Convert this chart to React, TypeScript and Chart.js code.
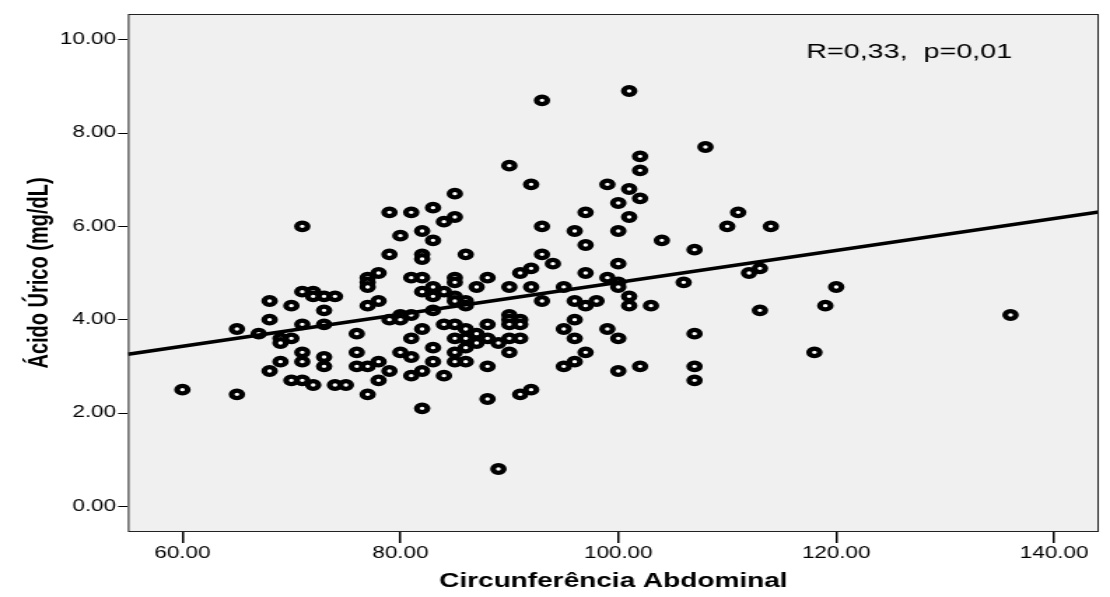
import { useEffect, useRef } from 'react';
import { Chart, registerables } from 'chart.js';

Chart.register(...registerables);

// ---- Data ----
const waistCm = [
  60,
  65, 65,
  67,
  68, 68, 68,
  69, 69, 69,
  70, 70, 70,
  71, 71, 71, 71, 71, 71,
  72, 72, 72,
  73, 73, 73, 73, 73,
  74, 74,
  75,
  76, 76, 76,
  77, 77, 77, 77, 77, 77,
  78, 78, 78, 78,
  79, 79, 79, 79,
  80, 80, 80, 80,
  81, 81, 81, 81, 81, 81,
  82, 82, 82, 82, 82, 82, 82, 82,
  83, 83, 83, 83, 83, 83, 83,
  84, 84, 84, 84,
  85, 85, 85, 85, 85, 85, 85, 85, 85, 85,
  86, 86, 86, 86, 86, 86, 86,
  87, 87, 87,
  88, 88, 88, 88, 88,
  89, 89,
  90, 90, 90, 90, 90, 90, 90,
  91, 91, 91, 91, 91,
  92, 92, 92, 92,
  93, 93, 93, 93,
  94,
  95, 95, 95,
  96, 96, 96, 96, 96,
  97, 97, 97, 97, 97,
  98,
  99, 99, 99,
  100, 100, 100, 100, 100, 100, 100,
  101, 101, 101, 101, 101,
  102, 102, 102, 102,
  103,
  104,
  106,
  107, 107, 107, 107,
  108,
  110,
  111,
  112,
  113, 113,
  114,
  118,
  119,
  120,
  136,
];

const uricAcid = [
  2.5,
  3.8, 2.4,
  3.7,
  4.4, 4.0, 2.9,
  3.6, 3.5, 3.1,
  4.3, 3.6, 2.7,
  6.0, 4.6, 3.9, 3.3, 3.1, 2.7,
  4.6, 4.5, 2.6,
  4.5, 4.2, 3.9, 3.2, 3.0,
  4.5, 2.6,
  2.6,
  3.7, 3.3, 3.0,
  4.9, 4.8, 4.7, 4.3, 3.0, 2.4,
  5.0, 4.4, 3.1, 2.7,
  6.3, 5.4, 4.0, 2.9,
  5.8, 4.1, 4.0, 3.3,
  6.3, 4.9, 4.1, 3.6, 3.2, 2.8,
  5.9, 5.4, 5.3, 4.9, 4.6, 3.8, 2.9, 2.1,
  6.4, 5.7, 4.7, 4.5, 4.2, 3.4, 3.1,
  6.1, 4.6, 3.9, 2.8,
  6.7, 6.2, 4.9, 4.8, 4.5, 4.4, 3.9, 3.6, 3.3, 3.1,
  5.4, 4.4, 4.3, 3.8, 3.6, 3.4, 3.1,
  4.7, 3.7, 3.5,
  4.9, 3.9, 3.6, 3.0, 2.3,
  3.5, 0.8,
  7.3, 4.7, 4.1, 4.0, 3.9, 3.6, 3.3,
  5.0, 4.0, 3.9, 3.6, 2.4,
  6.9, 5.1, 4.7, 2.5,
  8.7, 6.0, 5.4, 4.4,
  5.2,
  4.7, 3.8, 3.0,
  5.9, 4.4, 4.0, 3.6, 3.1,
  6.3, 5.6, 5.0, 4.3, 3.3,
  4.4,
  6.9, 4.9, 3.8,
  6.5, 5.9, 5.2, 4.8, 4.7, 3.6, 2.9,
  8.9, 6.8, 6.2, 4.5, 4.3,
  7.5, 7.2, 6.6, 3.0,
  4.3,
  5.7,
  4.8,
  5.5, 3.7, 3.0, 2.7,
  7.7,
  6.0,
  6.3,
  5.0,
  5.1, 4.2,
  6.0,
  3.3,
  4.3,
  4.7,
  4.1,
];

// Fit line end points (at the plot edges)
const fitX = [55, 144.1];
const fitY = [3.26, 6.31];

const xTicks = [60, 80, 100, 120, 140];
const yTicks = [0, 2, 4, 6, 8, 10];
const xRange = [55, 144.1];
const yRange = [-0.55, 10.55];

const xTitle = 'Circunferência Abdominal';
const yTitle = 'Ácido Úrico (mg/dL)';
const statText = 'R=0,33,  p=0,01';

// ---- Layout ----
const W = 1110;
const H = 597;
const STRETCH = 1.4; // the reference is stretched horizontally
const CW = Math.round(W / STRETCH);
const FONT = '"Liberation Sans", Arial, Helvetica, sans-serif';

const framePlugin = {
  id: 'frame',
  beforeDraw(chart: any) {
    const { ctx, chartArea: a } = chart;
    ctx.save();
    ctx.fillStyle = '#ffffff';
    ctx.fillRect(0, 0, chart.width, chart.height);
    ctx.fillStyle = '#f0f0f0';
    ctx.fillRect(a.left, a.top, a.right - a.left, a.bottom - a.top);
    ctx.restore();
  },
  afterDraw(chart: any) {
    const { ctx, chartArea: a } = chart;
    ctx.save();
    ctx.strokeStyle = '#222222';
    ctx.lineWidth = 1;
    ctx.strokeRect(a.left + 0.5, a.top + 0.5, a.right - a.left - 1, a.bottom - a.top - 1);
    ctx.fillStyle = '#000000';
    ctx.font = `20.5px ${FONT}`;
    ctx.textAlign = 'left';
    ctx.textBaseline = 'alphabetic';
    ctx.fillText(statText, 576, 58);
    ctx.restore();
  },
};

export default function App() {
  const ref = useRef<HTMLCanvasElement>(null);

  useEffect(() => {
    document.body.style.margin = '0';
    const canvas = ref.current;
    if (!canvas) return;

    const points = waistCm.map((x, i) => ({ x, y: uricAcid[i] }));
    const fit = fitX.map((x, i) => ({ x, y: fitY[i] }));

    const chart = new Chart(canvas, {
      type: 'scatter',
      data: {
        datasets: [
          {
            label: 'Ajuste',
            data: fit,
            showLine: true,
            borderColor: '#000000',
            borderWidth: 3.5,
            pointRadius: 0,
            pointHoverRadius: 0,
            fill: false,
          },
          {
            label: 'Pacientes',
            data: points,
            pointStyle: 'circle',
            pointRadius: 3.8,
            pointHoverRadius: 3.8,
            borderWidth: 4.2,
            pointBorderWidth: 4.2,
            borderColor: '#000000',
            backgroundColor: '#ffffff',
            showLine: false,
          },
        ],
      },
      options: {
        animation: false,
        responsive: false,
        maintainAspectRatio: false,
        devicePixelRatio: 1,
        events: [],
        layout: { padding: { top: 14, right: 1.4, bottom: 0, left: 0 } },
        plugins: {
          legend: { display: false },
          tooltip: { enabled: false },
        },
        scales: {
          x: {
            type: 'linear',
            position: 'bottom',
            min: xRange[0],
            max: xRange[1],
            afterBuildTicks: (scale: any) => {
              scale.ticks = xTicks.map((v) => ({ value: v }));
            },
            afterFit: (scale: any) => {
              scale.height = 65;
            },
            border: { display: false },
            grid: {
              drawOnChartArea: false,
              drawTicks: true,
              tickLength: 11,
              color: '#000000',
              tickColor: '#000000',
              lineWidth: 1.5,
            },
            ticks: {
              padding: 1,
              color: '#000000',
              font: { family: FONT, size: 16 },
              maxRotation: 0,
              autoSkip: false,
              callback: (v: any) => Number(v).toFixed(2),
            },
            title: {
              display: true,
              text: xTitle,
              color: '#000000',
              font: { family: FONT, size: 20, weight: 'bold' },
              padding: { top: 0, bottom: 4 },
            },
          },
          y: {
            type: 'linear',
            position: 'left',
            min: yRange[0],
            max: yRange[1],
            afterBuildTicks: (scale: any) => {
              scale.ticks = yTicks.map((v) => ({ value: v }));
            },
            afterFit: (scale: any) => {
              scale.width = 91.4;
            },
            border: { display: false },
            grid: {
              drawOnChartArea: false,
              drawTicks: true,
              tickLength: 7,
              color: '#000000',
              tickColor: '#000000',
              lineWidth: 1,
            },
            ticks: {
              padding: 1.5,
              color: '#000000',
              font: { family: FONT, size: 16 },
              autoSkip: false,
              callback: (v: any) => Number(v).toFixed(2),
            },
            title: {
              display: true,
              text: yTitle,
              color: '#000000',
              font: { family: FONT, size: 20, weight: 'bold' },
              padding: { top: 16, bottom: 0 },
            },
          },
        },
      },
      plugins: [framePlugin],
    } as any);

    return () => chart.destroy();
  }, []);

  return (
    <div style={{ width: W, height: H }}>
      <canvas
        ref={ref}
        width={CW}
        height={H}
        style={{ width: `${W}px`, height: `${H}px`, display: 'block' }}
      />
    </div>
  );
}
